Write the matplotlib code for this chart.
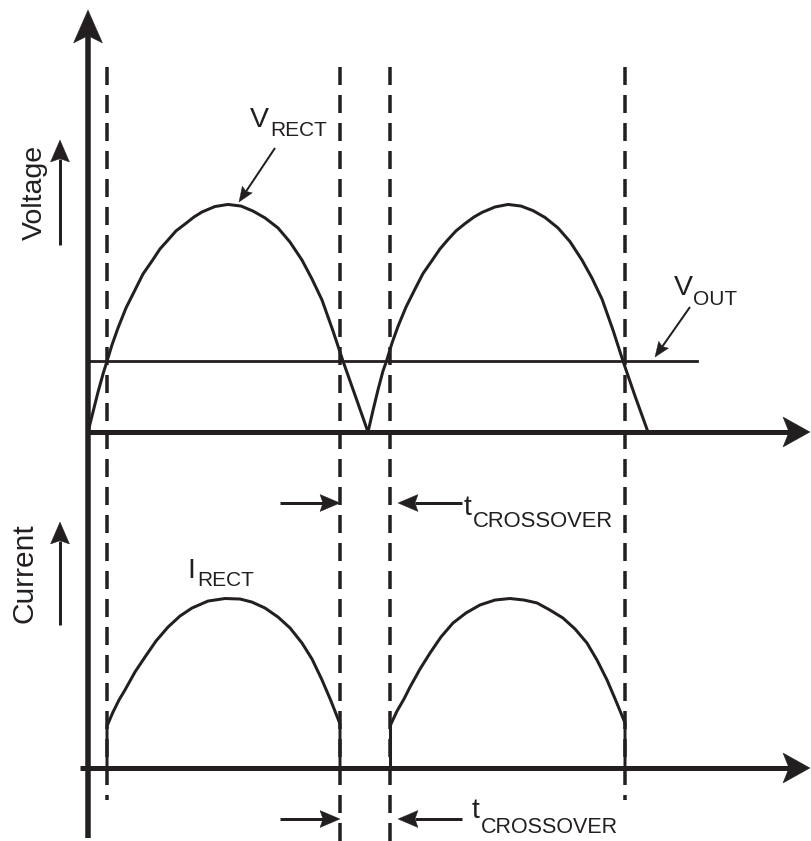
import matplotlib
matplotlib.use("Agg")
import matplotlib.pyplot as plt
from matplotlib.patches import Polygon
from matplotlib.transforms import blended_transform_factory
import math

plt.rcParams['font.family'] = ['Liberation Sans', 'DejaVu Sans']
plt.rcParams['lines.scale_dashes'] = False

INK = '#231f20'

# ---------------- data (time in arbitrary units, half period = 10) ----------------
# rectified voltage, first half-cycle
t_v1 = [0.000, 0.179, 0.357, 0.536, 0.679, 0.857, 1.071, 1.357, 1.679, 1.964, 2.286,
        2.571, 2.857, 3.143, 3.464, 3.786, 4.071, 4.536, 5.000, 5.464, 5.893, 6.321,
        6.786, 7.214, 7.643, 8.000, 8.357, 8.750, 9.107, 9.536, 10.000]
v_v1 = [0.000, 0.088, 0.175, 0.254, 0.311, 0.382, 0.456, 0.544, 0.623, 0.693, 0.750,
        0.803, 0.842, 0.882, 0.912, 0.943, 0.965, 0.989, 0.998, 0.991, 0.969, 0.939,
        0.895, 0.833, 0.754, 0.671, 0.579, 0.443, 0.311, 0.162, 0.000]
# rectified voltage, second half-cycle
t_v2 = [10.000, 10.179, 10.357, 10.536, 10.661, 10.857, 11.071, 11.357, 11.679, 11.964,
        12.286, 12.571, 12.857, 13.143, 13.464, 13.786, 14.071, 14.536, 15.000, 15.464,
        15.893, 16.321, 16.786, 17.214, 17.643, 18.000, 18.357, 18.750, 19.107, 19.536,
        20.000]
v_v2 = [0.000, 0.095, 0.185, 0.268, 0.311, 0.390, 0.463, 0.548, 0.627, 0.695,
        0.752, 0.803, 0.844, 0.882, 0.914, 0.943, 0.963, 0.987, 0.998, 0.991,
        0.971, 0.941, 0.895, 0.835, 0.754, 0.675, 0.583, 0.447, 0.311, 0.158,
        0.000]
# output voltage level
v_out = 0.311
t_out_end = 21.75

# rectifier current pulses
t_i1 = [0.679, 0.679, 0.893, 1.107, 1.321, 1.679, 2.036, 2.429, 2.857, 3.286, 3.714,
        4.286, 4.893, 5.429, 5.857, 6.321, 6.786, 7.214, 7.643, 8.000, 8.357, 8.679,
        9.000, 9.000]
i_i1 = [0.000, 0.247, 0.329, 0.400, 0.459, 0.565, 0.653, 0.747, 0.829, 0.894, 0.941,
        0.982, 0.997, 0.994, 0.976, 0.941, 0.888, 0.824, 0.735, 0.641, 0.518, 0.394,
        0.259, 0.000]
t_i2 = [10.804, 10.804, 11.036, 11.286, 11.500, 11.857, 12.214, 12.607, 13.036, 13.500,
        14.000, 14.536, 15.071, 15.571, 16.036, 16.500, 16.964, 17.393, 17.821, 18.179,
        18.536, 18.857, 19.179, 19.179]
i_i2 = [0.000, 0.253, 0.335, 0.406, 0.476, 0.582, 0.676, 0.771, 0.853, 0.912,
        0.959, 0.988, 0.997, 0.988, 0.971, 0.929, 0.882, 0.818, 0.735, 0.635,
        0.518, 0.394, 0.265, 0.000]

# crossover instants (dashed markers)
t_cross = [0.679, 9.000, 10.786, 19.179]
cross_long = [False, True, True, False]

# ---------------- figure ----------------
W, H = 811, 841
fig = plt.figure(figsize=(W / 100, H / 100), dpi=100)
fig.patch.set_facecolor('white')

# decoration axes in pixel units
ax_d = fig.add_axes([0, 0, 1, 1])
ax_d.set_xlim(0, W)
ax_d.set_ylim(H, 0)
ax_d.axis('off')

# voltage axes
ax_v = fig.add_axes([0, 0, 1, 1], sharex=None)
ax_v.set_xlim(-88 / 28, (W - 88) / 28)
ax_v.set_ylim((432 - H) / 228, 432 / 228)
ax_v.axis('off')
ax_v.patch.set_alpha(0)

# current axes
ax_i = fig.add_axes([0, 0, 1, 1])
ax_i.set_xlim(-88 / 28, (W - 88) / 28)
ax_i.set_ylim((768 - H) / 170, 768 / 170)
ax_i.axis('off')
ax_i.patch.set_alpha(0)

px = lambda p: p / 72 * 100  # unused helper
PT = 72 / 100  # points per pixel

# dashed crossover lines
blend = blended_transform_factory(ax_v.transData, ax_d.transData)
for t, long in zip(t_cross, cross_long):
    ax_d.plot([t, t], [67, 841 if long else 800], transform=blend, color=INK,
              lw=3.5 * PT, dashes=(18 * PT, 10 * PT), solid_capstyle='butt',
              dash_capstyle='butt', zorder=2)

# curves
ax_v.plot(t_v1, v_v1, color=INK, lw=3 * PT, solid_joinstyle='round', zorder=3)
ax_v.plot(t_v2, v_v2, color=INK, lw=3 * PT, solid_joinstyle='round', zorder=3)
ax_v.plot([0, t_out_end], [v_out, v_out], color=INK, lw=2.8 * PT, zorder=3)
ax_i.plot(t_i1, i_i1, color=INK, lw=3 * PT, solid_joinstyle='miter', zorder=3)
ax_i.plot(t_i2, i_i2, color=INK, lw=3 * PT, solid_joinstyle='miter', zorder=3)


def arrow(x0, y0, x1, y1, lw, hl, hw, notch=0.2, z=5):
    dx, dy = x1 - x0, y1 - y0
    L = math.hypot(dx, dy)
    ux, uy = dx / L, dy / L
    nx, ny = -uy, ux
    bx, by = x1 - ux * hl, y1 - uy * hl
    left = (bx + nx * hw / 2, by + ny * hw / 2)
    right = (bx - nx * hw / 2, by - ny * hw / 2)
    nt = (x1 - ux * hl * (1 - notch), y1 - uy * hl * (1 - notch))
    ax_d.plot([x0, nt[0]], [y0, nt[1]], color=INK, lw=lw * PT,
              solid_capstyle='butt', zorder=z)
    ax_d.add_patch(Polygon([(x1, y1), left, nt, right], closed=True, fc=INK,
                           ec=INK, lw=0.3, zorder=z))


# main axes
arrow(88, 838, 88, 10, 5.5, 33, 29, notch=0.22)
arrow(86, 432, 810, 432, 5, 27, 30, notch=0.22)
arrow(80, 768, 810, 768, 5, 27, 30, notch=0.22)

# quantity arrows
arrow(60, 245, 60, 140, 3, 22, 19, notch=0.15)
arrow(60, 625, 60, 522, 3, 22, 19, notch=0.15)

# pointer arrows
arrow(275, 148, 239, 202, 2, 15, 12, notch=0.15)
arrow(690, 307, 655, 357, 2, 15, 12, notch=0.15)

# crossover arrows
for y in (503, 819):
    arrow(280, y, 340, y, 3, 20, 17, notch=0.15)
    arrow(462, y, 398, y, 3, 20, 17, notch=0.15)

# texts
tk = dict(color=INK, ha='left', va='baseline')
ax_d.text(41.5, 192, 'Voltage', rotation=90, rotation_mode='anchor', ha='center',
          va='baseline', fontsize=20.5, color=INK)
ax_d.text(33, 573, 'Current', rotation=90, rotation_mode='anchor', ha='center',
          va='baseline', fontsize=21.5, color=INK)

ax_d.text(250, 127, 'V', fontsize=20.5, **tk)
ax_d.text(270, 136, 'RECT', fontsize=15, **tk)

ax_d.text(674, 295, 'V', fontsize=20.5, **tk)
ax_d.text(693, 305, 'OUT', fontsize=15, **tk)

ax_d.text(187, 578, 'I', fontsize=20.5, **tk)
ax_d.text(197, 586, 'RECT', fontsize=15, **tk)

ax_d.text(464, 515, 't', fontsize=20.5, **tk)
ax_d.text(473, 527, 'CROSSOVER', fontsize=15.8, **tk)
ax_d.text(472, 818, 't', fontsize=20.5, **tk)
ax_d.text(481, 833, 'CROSSOVER', fontsize=15.5, **tk)

fig.savefig('out.png', dpi=100, facecolor='white')
